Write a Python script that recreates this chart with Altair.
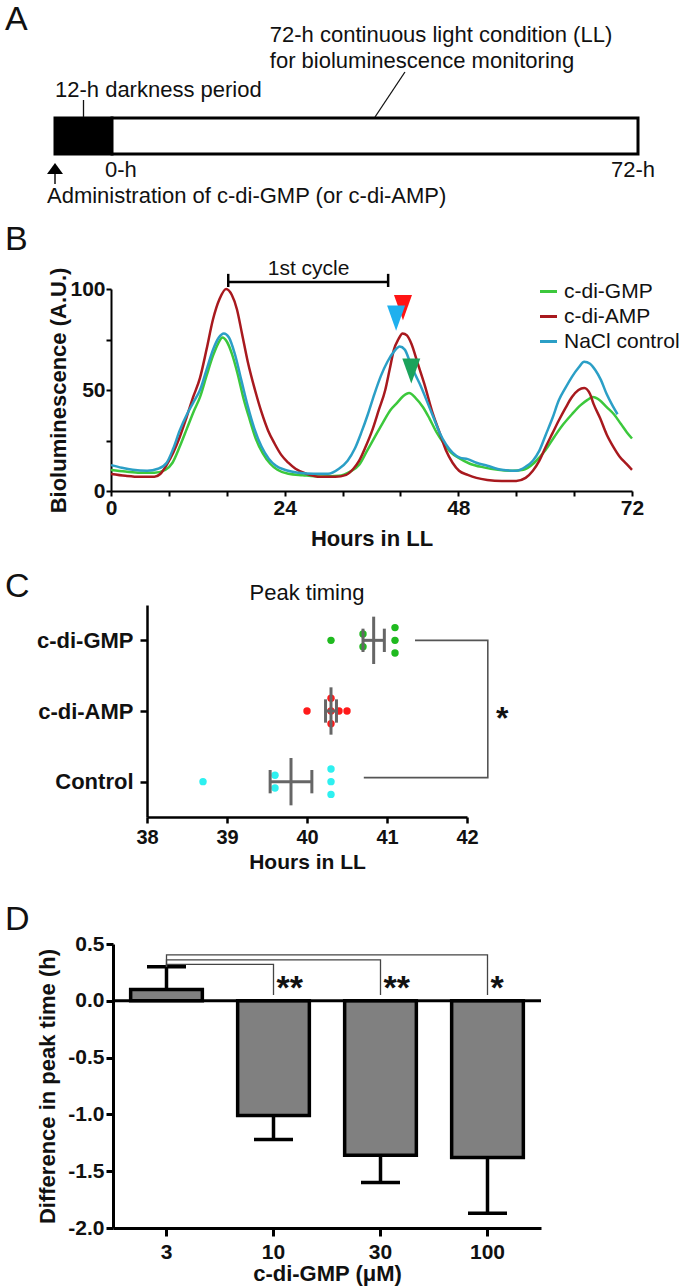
import altair as alt
import numpy as np
import pandas as pd

FONT = "Liberation Sans"
INK = "#111111"
PAGE_W = 681

# ----------------------------------------------------------------- data
# A: protocol schedule, hours relative to the start of constant light
phase_labels = ["darkness", "LL"]
phase_start = [-12, 0]
phase_end = [0, 72]
phase_fill = ["#000000", "#ffffff"]

# B: bioluminescence traces (hours in LL, A.U.)
gmp_hours = [0, 2, 4, 6, 7.5, 8.5, 9.5, 10.5, 11.5, 12.3, 13.2, 14.1, 14.8, 15.4, 16.0, 16.7,
             17.5, 18.3, 19.2, 20.0, 21.0, 22.0, 23.0, 24.5, 26.5, 29, 31.5, 33, 34.3, 35.4,
             36.5, 37.6, 38.6, 39.5, 40.4, 41.2, 42.1, 43.1, 44, 45, 46, 47, 48, 49.6, 51.5,
             53.5, 55.5, 57, 58.5, 60, 61.3, 62.5, 63.7, 64.9, 65.8, 66.6, 67.5, 68.5, 69.5,
             70.5, 71.3, 72]
gmp_lum = [10.4, 9.6, 9.0, 9.0, 10.5, 14, 22, 31, 40, 46.5, 57, 67, 73, 76, 74, 68,
           58, 46, 35, 26, 18.5, 13.5, 10.5, 8.5, 7.8, 7.2, 7.5, 9.5, 13, 20,
           27, 34, 40, 43.5, 47, 48.5, 46, 41.6, 36, 29, 23.5, 19, 16.5, 13.5, 11.7,
           10.5, 10, 10.5, 14, 20, 27, 33, 38, 42.5, 45, 46.5, 45, 41.5, 38,
           33, 29, 26]

amp_hours = [0, 2, 4, 6, 6.8, 7.7, 8.6, 9.5, 10.4, 11.3, 12.3, 13.2, 14.1, 15, 15.9, 16.7,
             17.4, 18.1, 18.9, 19.9, 20.8, 21.7, 22.6, 23.5, 24.5, 25.5, 27, 29, 31, 32.5,
             33.5, 34.3, 35.2, 36.1, 37, 37.9, 38.5, 39.1, 39.7, 40.3, 40.9, 41.5, 42.4, 43.3,
             44.5, 45.4, 46.3, 47.2, 48.1, 49.3, 50.5, 52, 54, 56, 57.3, 58.3, 59.2, 60.1,
             61, 61.9, 62.8, 63.7, 64.6, 65.4, 66.2, 66.7, 67.6, 68.5, 69.4, 70.3, 71.2, 72]
amp_lum = [8.4, 7.5, 7, 7, 8.4, 13, 19, 26.7, 36, 46, 56, 70, 85, 95, 100, 97,
           90, 78, 64, 50, 39, 30, 23.5, 18, 14, 11, 8.5, 7, 7, 8,
           11, 15, 22, 30, 40, 50, 60, 70, 75, 78, 77, 73, 63, 53,
           38, 29, 20, 14, 10, 8, 6.5, 5.5, 5, 5, 6.5, 10, 15, 22,
           28.5, 35, 41, 46.5, 50, 51, 48, 43, 36, 28, 22, 17, 13.5, 10.5]

nacl_hours = [0, 1.5, 3, 5, 6.5, 7.7, 8.6, 9.5, 10.5, 11.4, 12.3, 13.2, 14.1, 14.9, 15.6,
              16.3, 17.1, 18.0, 18.9, 19.8, 20.8, 21.8, 22.8, 24, 26, 28, 30, 31.5, 32.7,
              33.7, 34.6, 35.5, 36.4, 37.3, 38.2, 39.1, 39.9, 40.6, 41.3, 42, 42.8, 43.6,
              44.5, 45.4, 46.3, 47.2, 48.2, 49.3, 50.5, 52, 54, 56, 57.3, 58.3, 59.2, 60.1,
              61, 61.9, 62.8, 63.7, 64.6, 65.4, 66.2, 66.9, 67.7, 68.5, 69.2, 70]
nacl_lum = [12.8, 11.5, 10.5, 10, 11, 14, 21, 30, 38, 44, 50, 60, 70, 76, 78,
            76, 68, 55, 42, 31, 22, 16, 12.5, 10.5, 9, 8.5, 8.5, 11, 15,
            21, 29, 38, 48, 57, 64, 69, 71.5, 70, 64, 58, 52, 45,
            37, 29, 23, 19, 16.5, 15.8, 14, 12.5, 10.5, 10, 12, 15, 20, 28,
            36, 45, 51, 56.5, 61, 64, 63, 60, 55, 48, 43, 38]

series_names = ["c-di-GMP", "c-di-AMP", "NaCl control"]
series_colors = ["#3cc83c", "#a8191e", "#2b9fc6"]

# second-cycle peak markers
peak_series = ["c-di-AMP", "NaCl control", "c-di-GMP"]
peak_hours = [40.35, 39.4, 41.5]
peak_lum = [90.8, 85.6, 59.4]
peak_colors = ["#ff1414", "#1fb0ee", "#1ba35c"]

# C: second-cycle peak time of each culture (hours in LL)
groups = ["c-di-GMP", "c-di-AMP", "Control"]
group_rows = [3, 2, 1]
group_colors = ["#1fba1f", "#ff1a1a", "#2ef0f0"]
gmp_peaks = [40.3, 40.7, 40.7, 41.1, 41.1, 41.1]
amp_peaks = [40.0, 40.3, 40.3, 40.3, 40.4, 40.5]
ctrl_peaks = [38.7, 39.6, 39.6, 40.3, 40.3, 40.3]

# D: peak-time difference against c-di-GMP dose (mean, SEM)
doses = ["3", "10", "30", "100"]
shift_mean = [0.10, -1.01, -1.36, -1.38]
shift_sem = [0.20, 0.21, 0.24, 0.49]
compared = ["10", "30", "100"]
compared_marks = ["**", "**", "*"]


# ---------------------------------------------------------------- helpers
def one_row(**kw):
    return pd.DataFrame({k: [v] for k, v in kw.items()})


def frame(top, height, bottom):
    """Invisible box fixing each panel's footprint on the page."""
    return alt.Chart(one_row(k=0)).mark_rect(opacity=0).encode(
        x=alt.value(0), x2=alt.value(PAGE_W),
        y=alt.value(-top), y2=alt.value(height + bottom))


def panel_letter(letter, baseline):
    return alt.Chart(one_row(t=letter)).mark_text(
        align="left", baseline="alphabetic", font=FONT, fontSize=34, color=INK
    ).encode(text="t:N", x=alt.value(5), y=alt.value(baseline))


def axis_style(**kw):
    base = dict(domainColor="black", tickColor="black", labelColor=INK, titleColor=INK,
                labelFont=FONT, titleFont=FONT, labelFontWeight="bold",
                titleFontWeight="bold", labelFontSize=21, titleFontSize=22, grid=False)
    base.update(kw)
    return alt.Axis(**base)


# ---------------------------------------------------------------- panel A
A_H = 218
sched_x = alt.Scale(domain=[-12, 0, 72], range=[55, 112, 638], nice=False, zero=False)
depth = alt.Scale(domain=[0, A_H], range=[0, A_H], nice=False, zero=False)

phases = pd.DataFrame({"phase": phase_labels, "start": phase_start, "end": phase_end,
                       "fill": phase_fill, "top": 118, "bottom": 154})
a_bar = alt.Chart(phases).mark_rect(stroke="black", strokeWidth=3).encode(
    x=alt.X("start:Q", scale=sched_x, axis=None), x2="end:Q",
    y=alt.Y("top:Q", scale=depth, axis=None), y2="bottom:Q",
    fill=alt.Fill("fill:N", scale=None))


def a_text(text, at, dep, align="left", dx=0):
    return alt.Chart(one_row(t=text, at=at, d=dep)).mark_text(
        align=align, baseline="alphabetic", font=FONT, fontSize=22, color=INK, dx=dx
    ).encode(text="t:N", x=alt.X("at:Q", scale=sched_x, axis=None),
             y=alt.Y("d:Q", scale=depth, axis=None))


def a_line(x1, y1, x2, y2, width=1.3):
    return alt.Chart(one_row(x1=x1, y1=y1, x2=x2, y2=y2)).mark_rule(
        color=INK, strokeWidth=width).encode(
        x=alt.X("x1:Q", scale=sched_x, axis=None), x2="x2:Q",
        y=alt.Y("y1:Q", scale=depth, axis=None), y2="y2:Q")


a_arrow = alt.Chart(one_row(at=-12, d=168.5)).mark_point(
    shape="M0,-0.7L1,0.7L-1,0.7Z", filled=True, size=256, color="black", opacity=1
).encode(x=alt.X("at:Q", scale=sched_x, axis=None), y=alt.Y("d:Q", scale=depth, axis=None))

panel_a = alt.layer(
    frame(0, A_H, 0),
    a_bar,
    a_line(-6, 100, -6, 117),
    a_line(40.1, 72, 36, 117),
    a_line(-12, 174, -12, 184, 1.5),
    a_arrow,
    a_text("72-h continuous light condition (LL)", 21.6, 42),
    a_text("for bioluminescence monitoring", 21.6, 68),
    a_text("12-h darkness period", -12, 97),
    a_text("0-h", 0, 177, dx=-7),
    a_text("72-h", 72, 177, align="right", dx=17),
    a_text("Administration of c-di-GMP (or c-di-AMP)", -12, 203, dx=-8),
    panel_letter("A", 30),
).properties(width=PAGE_W, height=A_H)

# ---------------------------------------------------------------- panel B
B_L, B_T, B_R, B_H, B_B = 111, 71, 632, 202, 65
hx = alt.Scale(domain=[0, 72], range=[B_L, B_R], nice=False, zero=False)
ly = alt.Scale(domain=[0, 100], nice=False, zero=False)
bx_axis = axis_style(
    values=list(range(0, 73, 8)), labelExpr="datum.value % 24 == 0 ? datum.label : ''",
    title="Hours in LL", domainWidth=2, tickWidth=2, tickSize=5, labelPadding=1,
    labelFlush=False, labelOverlap=False, titleY=47, titleBaseline="middle")
by_axis = axis_style(
    values=[0, 25, 50, 75, 100], labelExpr="datum.value % 50 == 0 ? datum.label : ''",
    title="Bioluminescence (A.U.)", domainWidth=2, tickWidth=2, tickSize=5,
    labelPadding=1, labelOverlap=False, offset=-B_L, titleX=-53, titleY=B_H / 2,
    titleBaseline="middle")


def bx(field):
    return alt.X(field, scale=hx, axis=bx_axis)


def by(field):
    return alt.Y(field, scale=ly, axis=by_axis)


traces = pd.concat([
    pd.DataFrame({"series": "c-di-GMP", "hours": gmp_hours, "lum": gmp_lum}),
    pd.DataFrame({"series": "c-di-AMP", "hours": amp_hours, "lum": amp_lum}),
    pd.DataFrame({"series": "NaCl control", "hours": nacl_hours, "lum": nacl_lum}),
])

b_lines = alt.Chart(traces).mark_line(strokeWidth=2.5, interpolate="monotone").encode(
    x=bx("hours:Q"), y=by("lum:Q"),
    color=alt.Color("series:N", scale=alt.Scale(domain=series_names, range=series_colors),
                    legend=alt.Legend(orient="none", legendX=538, legendY=-8, title=None,
                                      labelFont=FONT, labelFontSize=21, labelColor=INK,
                                      symbolType="stroke", symbolSize=289,
                                      symbolStrokeWidth=3, rowPadding=3, labelOffset=5,
                                      padding=0)),
)

peaks_df = pd.DataFrame({"series": peak_series, "hours": peak_hours, "lum": peak_lum,
                         "paint": peak_colors})
b_peaks = alt.Chart(peaks_df).mark_point(
    shape="M-1,-1.4L1,-1.4L0,1.4Z", filled=True, size=324, opacity=1, strokeWidth=0
).encode(x=bx("hours:Q"), y=by("lum:Q"), fill=alt.Fill("paint:N", scale=None))

cycle = one_row(start=16.2, end=38.3, level=103.5)
b_cycle = alt.Chart(cycle).mark_rule(color="black", strokeWidth=2.5).encode(
    x=bx("start:Q"), x2="end:Q", y=by("level:Q"))
cycle_ends = pd.DataFrame({"at": [16.2, 38.3], "lo": 101, "hi": 107.5})
b_cycle_ends = alt.Chart(cycle_ends).mark_rule(color="black", strokeWidth=2.5).encode(
    x=bx("at:Q"), y=by("lo:Q"), y2="hi:Q")
b_cycle_text = alt.Chart(one_row(t="1st cycle", at=27.3, lv=107)).mark_text(
    align="center", baseline="alphabetic", font=FONT, fontSize=21, color=INK
).encode(text="t:N", x=bx("at:Q"), y=by("lv:Q"))

panel_b = alt.layer(
    frame(B_T, B_H, B_B),
    b_lines, b_peaks, b_cycle, b_cycle_ends, b_cycle_text,
    panel_letter("B", -39),
).properties(width=PAGE_W, height=B_H)

# ---------------------------------------------------------------- panel C
C_L, C_T, C_R, C_H, C_B = 147, 49, 467, 212, 68
cx = alt.Scale(domain=[38, 42], range=[C_L, C_R], nice=False, zero=False)
cy = alt.Scale(domain=[0.5, 3.5], nice=False, zero=False)
cx_axis = axis_style(
    values=[38, 39, 40, 41, 42], title="Hours in LL", domainWidth=2.5, tickWidth=2.5,
    tickSize=6, labelPadding=4, labelFlush=False, labelFontSize=20, titleFontSize=21,
    titleY=45, titleBaseline="middle")
cy_axis = axis_style(
    values=[1, 2, 3], title=None, domainWidth=2.5, tickWidth=2.5, tickSize=7,
    labelPadding=7, labelFontSize=22, offset=-C_L,
    labelExpr="datum.value == 3 ? 'c-di-GMP' : datum.value == 2 ? 'c-di-AMP' : 'Control'")


def cxe(field):
    return alt.X(field, scale=cx, axis=cx_axis)


def cye(field):
    return alt.Y(field, scale=cy, axis=cy_axis)


SWARM = 0.18


def swarm(values):
    totals = {v: values.count(v) for v in values}
    seen = {}
    offs = []
    for v in values:
        i = seen.get(v, 0)
        seen[v] = i + 1
        offs.append((i - (totals[v] - 1) / 2) * SWARM)
    return offs


peak_sets = [gmp_peaks, amp_peaks, ctrl_peaks]
dots, stats = [], []
for g, row, vals in zip(groups, group_rows, peak_sets):
    for v, o in zip(vals, swarm(vals)):
        dots.append({"group": g, "hours": v, "row": row - o})
    arr = np.array(vals)
    m = arr.mean()
    s = arr.std(ddof=1) / np.sqrt(len(arr))
    stats.append({"group": g, "row": row, "mean": m, "lo": m - s, "hi": m + s,
                  "top": row + 0.335, "bot": row - 0.335,
                  "ctop": row + 0.165, "cbot": row - 0.165})
dots = pd.DataFrame(dots)
stats = pd.DataFrame(stats)
caps = pd.concat([stats.assign(at=stats["lo"]), stats.assign(at=stats["hi"])])

c_dots = alt.Chart(dots).mark_circle(size=55, opacity=1).encode(
    x=cxe("hours:Q"), y=cye("row:Q"),
    color=alt.Color("group:N", scale=alt.Scale(domain=groups, range=group_colors), legend=None),
)
gray = "#666666"
c_mean = alt.Chart(stats).mark_rule(color=gray, strokeWidth=3).encode(
    x=cxe("mean:Q"), y=cye("bot:Q"), y2="top:Q")
c_sem = alt.Chart(stats).mark_rule(color=gray, strokeWidth=3).encode(
    x=cxe("lo:Q"), x2="hi:Q", y=cye("row:Q"))
c_caps = alt.Chart(caps).mark_rule(color=gray, strokeWidth=3).encode(
    x=cxe("at:Q"), y=cye("cbot:Q"), y2="ctop:Q")

bracket = pd.DataFrame({"hours": [41.35, 42.26, 42.26, 40.71],
                        "row": [3, 3, 1.057, 1.057], "step": [0, 1, 2, 3]})
c_bracket = alt.Chart(bracket).mark_line(color="#555555", strokeWidth=1.6).encode(
    x=cxe("hours:Q"), y=cye("row:Q"), order="step:Q")
c_star = alt.Chart(one_row(t="*", at=42.44, row=2)).mark_text(
    align="center", baseline="alphabetic", font=FONT, fontSize=32, fontWeight="bold",
    color=INK, dy=18
).encode(text="t:N", x=cxe("at:Q"), y=cye("row:Q"))
c_title = alt.Chart(one_row(t="Peak timing", at=40)).mark_text(
    align="center", baseline="middle", font=FONT, fontSize=22, color=INK
).encode(text="t:N", x=cxe("at:Q"), y=alt.value(-12))

panel_c = alt.layer(
    frame(C_T, C_H, C_B),
    c_dots, c_mean, c_sem, c_caps, c_bracket, c_star, c_title,
    panel_letter("C", -8),
).properties(width=PAGE_W, height=C_H)

# ---------------------------------------------------------------- panel D
D_L, D_T, D_R, D_H, D_B = 113, 59, 541, 284, 60
dx_scale = alt.Scale(domain=doses, range=[D_L, D_R], paddingInner=0.33, paddingOuter=0.165)
dy_scale = alt.Scale(domain=[-2, 0.5], nice=False, zero=False)
dx_axis = axis_style(title="c-di-GMP (μM)", labelAngle=0, domainWidth=3, tickWidth=3,
                     tickSize=8, labelPadding=5, titleY=45, titleBaseline="middle")
dy_axis = axis_style(
    values=[-2, -1.5, -1, -0.5, 0, 0.5], title="Difference in peak time (h)",
    labelExpr="datum.value < 0 ? '-' + format(-datum.value, '.1f') : format(datum.value, '.1f')",
    domainWidth=3, tickWidth=3, tickSize=7, labelPadding=2, offset=-D_L,
    titleX=-66, titleY=D_H / 2, titleBaseline="middle")


def dxe():
    return alt.X("dose:N", scale=dx_scale, sort=doses, axis=dx_axis)


def dye(field):
    return alt.Y(field, scale=dy_scale, axis=dy_axis)


dose_df = pd.DataFrame({"dose": doses, "mean": shift_mean, "sem": shift_sem})
dose_df["tip"] = dose_df["mean"] + np.sign(dose_df["mean"]) * dose_df["sem"]

d_stems = alt.Chart(dose_df).mark_rule(color="black", strokeWidth=3.5).encode(
    x=dxe(), y=dye("mean:Q"), y2="tip:Q")
d_caps = alt.Chart(dose_df).mark_tick(color="black", thickness=3.5, size=39, opacity=1).encode(
    x=dxe(), y=dye("tip:Q"))
d_bars = alt.Chart(dose_df).mark_bar(fill="#808080", stroke="black", strokeWidth=3.5).encode(
    x=dxe(), y=dye("mean:Q"), y2=alt.datum(0))
d_zero = alt.Chart(one_row(z=0)).mark_rule(color="black", strokeWidth=3).encode(
    y=dye("z:Q"), x=alt.value(D_L), x2=alt.value(D_R))

links = []
for target, level in zip(compared, [0.32, 0.36, 0.405]):
    for step, (d, v) in enumerate([(doses[0], 0.30), (doses[0], level),
                                   (target, level), (target, 0.05)]):
        links.append({"pair": target, "step": step, "dose": d, "y": v})
links = pd.DataFrame(links)
d_links = alt.Chart(links).mark_line(color="#444444", strokeWidth=1.3).encode(
    x=dxe(), y=dye("y:Q"), detail="pair:N", order="step:Q")
marks_df = pd.DataFrame({"dose": compared, "t": compared_marks, "y": 0.02})
d_marks = alt.Chart(marks_df).mark_text(
    align="left", baseline="alphabetic", font=FONT, fontSize=34, fontWeight="bold",
    color=INK, dx=3
).encode(text="t:N", x=dxe(), y=dye("y:Q"))

panel_d = alt.layer(
    frame(D_T, D_H, D_B),
    d_stems, d_caps, d_bars, d_zero, d_links, d_marks,
    panel_letter("D", -14),
).properties(width=PAGE_W, height=D_H)

# ---------------------------------------------------------------- figure
chart = alt.vconcat(panel_a, panel_b, panel_c, panel_d, spacing=0).resolve_scale(
    color="independent"
).properties(padding=0).configure_view(stroke=None)

chart.save("out.html", embed_options={"renderer": "svg", "actions": False})
